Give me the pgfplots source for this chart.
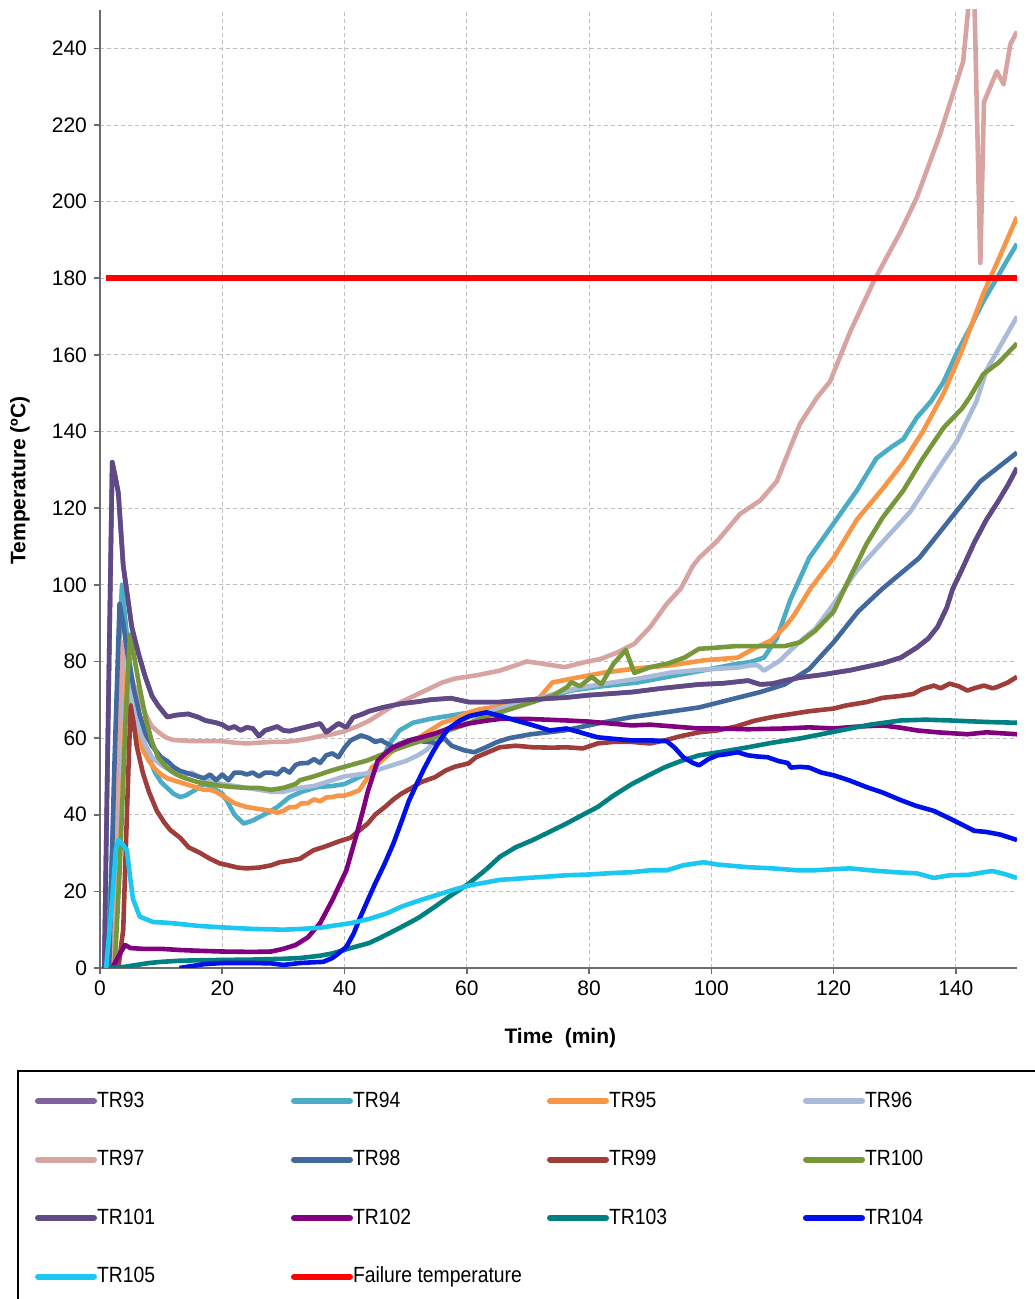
\documentclass[border=0pt]{standalone}
\usepackage{fontspec}
\setmainfont{Liberation Sans}
\newfontfamily\legfont[FakeStretch=0.88]{Liberation Sans}
\usepackage{pgfplots}
\pgfplotsset{compat=1.18}
\definecolor{cA}{HTML}{7F62A0}
\definecolor{cB}{HTML}{4BACC6}
\definecolor{cC}{HTML}{F79646}
\definecolor{cD}{HTML}{A9BBD8}
\definecolor{cE}{HTML}{D8A4A2}
\definecolor{cF}{HTML}{41699E}
\definecolor{cG}{HTML}{9F3D3A}
\definecolor{cH}{HTML}{77983A}
\definecolor{cI}{HTML}{5F4A85}
\definecolor{cJ}{HTML}{800080}
\definecolor{cK}{HTML}{008080}
\definecolor{cL}{HTML}{0010E8}
\definecolor{cM}{HTML}{1CC8F2}
\definecolor{cN}{HTML}{FF0000}
\newcommand{\legtxt}[1]{\makebox[97pt][l]{#1}}
\begin{document}
\begin{tikzpicture}
\begin{axis}[
  at={(50pt,165.5pt)}, anchor=south west,
  scale only axis, width=458.5pt, height=479pt,
  xmin=0, xmax=150, ymin=0, ymax=250,
  xtick={0,20,...,140}, ytick={0,20,...,240},
  axis lines=left,
  axis line style={-, draw=gray!85!black, line width=1pt},
  tick align=outside, major tick length=3pt,
  tick style={draw=gray!85!black, line width=0.8pt},
  xmajorgrids, ymajorgrids,
  grid style={dash pattern=on 2pt off 1.5pt, draw=gray!50, line width=0.4pt},
  /pgf/number format/assume math mode=true,
  tick label style={font=\fontsize{10.5}{12}\selectfont},
  every axis x label/.style={at={(axis description cs:0.502,-0.073)}, anchor=center},
  every axis y label/.style={at={(axis description cs:-0.0872,0.509)}, rotate=90, anchor=center},
  xlabel={\bfseries\fontsize{10.5}{12}\selectfont Time\ \ (min)},
  ylabel={\bfseries\fontsize{10.5}{12}\selectfont Temperature (ºC)},
  no markers,
  every axis plot/.append style={line width=2.3pt, line join=round},
  legend columns=4,
  legend cell align=left,
  legend image code/.code={\draw[#1, line width=3pt, line cap=round] (0pt,0pt) -- (28pt,0pt);},
  legend style={
    at={(-0.0905,-0.1065)}, anchor=north west,
    draw=black, line width=1pt,
    inner xsep=8.5pt, inner ysep=10pt,
    font=\legfont\fontsize{11}{13}\selectfont,
    nodes={inner xsep=0pt, inner ysep=0pt, text height=8pt, text depth=2pt},
    row sep=19.25pt,
    /tikz/every even column/.append style={column sep=0pt},
  },
]
% TR93
\addplot[cA] coordinates {(0.7,0) (2.0,132) (2.4,129) (3,124) (3.8,105) (5.2,89) (6.3,82) (7.4,76) (8.5,71) (9.5,68.5) (11,65.5) (12.5,66) (14.4,66.3) (16,65.5) (17.2,64.6) (19,64) (20,63.5) (21,62.5) (22,63) (23,62) (24,62.8) (25,62.5) (26,60.5) (27,62) (28,62.5) (29,63) (30,62) (31,61.8) (32.7,62.5) (34,63) (36,63.8) (37,61.5) (39,63.8) (40.3,62.8) (41.4,65.4) (43,66.3) (44,67) (46.3,68) (49.3,69) (52,69.5) (54,70) (57.4,70.4) (60.3,69.4) (65.4,69.4) (70,70) (76.3,70.6) (80,71.2) (87,72) (92,73) (98,74) (102,74.3) (106,75) (108,74) (110,74.2) (112,75) (114.5,75.8) (118,76.5) (122.7,77.7) (128,79.5) (131,81) (133.6,83.6) (135.5,86) (137,89) (138.5,94) (139.5,99) (141,104) (143,111) (145,117) (147,122) (148.5,126) (150,130.5)};
\addlegendentry{\legtxt{TR93}}
% TR94
\addplot[cB] coordinates {(1.2,0) (2.2,40) (3.0,80) (3.6,100) (4.2,90) (5,78) (6,68) (7,60) (8,55) (9,51) (10,48.5) (11,47) (12,45.5) (13.1,44.6) (14,45) (15.5,46.4) (16.9,48) (18,47.5) (19,46.5) (20,45.5) (20.7,43.8) (22,40) (23.5,37.7) (25,38.5) (27.3,40.4) (29,42) (31,44.6) (33,46) (35.5,47.2) (38,47.5) (40,48) (42,49.5) (44,51) (46,54) (47.4,58.6) (49,62) (51.2,64) (54,65) (59.4,66.4) (63,67) (66,68) (70,69.5) (74,71) (77.1,72.4) (82,73.5) (87.9,74.5) (93,76) (98.8,77.7) (104.3,79.4) (106.3,79.8) (108.6,81) (110.7,86) (112.9,96) (116,107) (120,116) (123.8,124.6) (127,133) (129.5,136) (131.4,138) (133.6,143.6) (136,148) (138,153) (140,160) (142.3,167) (144.5,174) (146.7,180) (148.5,185) (150,189)};
\addlegendentry{\legtxt{TR94}}
% TR95
\addplot[cC] coordinates {(2.2,0) (3.2,45) (4.3,78) (5,70) (6,62) (7,57) (8,54) (9,52) (10,50.5) (11,49.5) (12,49) (13,48.5) (14,48) (15,47.5) (16,47) (17,46.5) (18,46.5) (19,46) (20,45) (21,44) (22,43) (23,42.5) (24,42) (26,41.5) (28,41) (29,40.5) (30,41) (31,42) (32,42) (33,43) (34,43) (35,44) (36,43.5) (37,44.5) (38,44.6) (39,45) (40,45) (41,45.5) (42.4,46.4) (43.5,49) (44.5,52.4) (46,54) (48,56.8) (50,58) (52,60) (54,62) (56,64) (58,65) (60,66.5) (62,67.5) (64,68) (66,68.5) (68,69) (70,69.5) (71.9,70.6) (74,74.5) (77.1,75.5) (82.5,77.1) (87.9,78.2) (93.4,79) (98.8,80.3) (104.3,81) (107,83.4) (109.8,85.5) (112,89) (113.5,92) (116.2,99) (120,107) (123.8,117) (128.2,125.4) (131.4,132) (134.6,140) (138,150) (140.7,160) (144.5,176) (147,185) (150,196)};
\addlegendentry{\legtxt{TR95}}
% TR96
\addplot[cD] coordinates {(1.8,0) (3.0,50) (3.8,85) (4.5,78) (5.5,68) (6.5,62) (7.5,58) (8.5,55) (10,53) (11,52) (12,51.5) (13,51) (14,50.5) (15,51) (16,50) (17,49.5) (18,49) (19,48.5) (20,48) (22,47.5) (24,47) (26,46.5) (28,46) (30,46) (32.7,47) (35,47.5) (38,49) (40,50) (43.8,50.8) (46,52) (48,53) (50,54) (52,55.5) (53.5,57) (54.8,59.4) (56,61) (58,63.5) (60.3,65.4) (62,66) (64,67) (66,68) (70,69.5) (74.4,71.6) (78,73) (82.5,74.2) (88,75.5) (93.4,77.1) (98,77.8) (104.3,78.4) (106.5,79) (107.6,79) (108.6,77.6) (110,79) (111.3,80.3) (113,83) (115.3,86.3) (117,88.5) (120,95) (123.8,103.7) (128.2,111.5) (132.5,119) (137,130) (140.2,137.6) (143.4,148) (145,156) (147.5,163) (150,170)};
\addlegendentry{\legtxt{TR96}}
% TR97
\addplot[cE] coordinates {(2.0,0) (2.8,50) (3.7,85) (4.5,80) (5.5,74) (6.5,70) (7.5,66) (8.5,63) (10,61) (11,60) (12,59.5) (13.1,59.4) (15,59.2) (18,59.2) (20,59.2) (22,58.8) (24,58.6) (26,58.8) (28,59) (30,59) (32,59.3) (34,59.8) (36,60.5) (38,61) (40,61.8) (42,63) (44,64.5) (46,66.5) (48,68.5) (50,70) (52,71.5) (54,73) (56,74.5) (58,75.5) (60,76) (62,76.5) (65.4,77.6) (68,79) (69.8,80) (72,79.5) (74,79) (76,78.5) (79.3,79.8) (82,80.7) (84.7,82.4) (87.4,84.6) (90,89) (92.7,95) (95,99) (97,105) (98,107) (101,111.5) (104.7,118.5) (108,122) (110.7,127) (112.9,135.8) (114.5,142) (117.3,148.9) (119.4,153) (122.7,166) (126.5,179) (129.2,187) (130.9,192) (133.6,201) (137.4,217.5) (141.2,236.6) (142,250) (142.3,262) (142.9,262) (144,184) (144.6,226) (146.7,234) (147.8,230.6) (148.9,241) (150,244.4)};
\addlegendentry{\legtxt{TR97}}
% TR98
\addplot[cF] coordinates {(1.5,0) (2.3,50) (3.2,95) (3.8,90) (4.5,82) (5.5,73) (6.5,66) (7.5,61) (8.5,58) (10,55) (11,54) (12,52.5) (13,51.5) (14,51) (15,50.5) (16,50) (17,49.5) (18,50.5) (19,49) (20,50.5) (21,49) (22,51) (23,51) (24,50.5) (25,51) (26,50) (27,51) (28,51) (29,50.5) (30,52) (31,51) (32,53) (32.7,53.4) (34,53.5) (35,54.5) (36,53.5) (37,55.5) (38,56) (39,55) (40,57.5) (41,59.4) (42.7,60.7) (44,60) (45,59) (46,59.4) (47,58.5) (48,57.6) (49,58.5) (50.4,59.4) (52,60) (53,59) (54.2,59) (55,58.5) (56.3,60) (57.5,58) (59.6,56.8) (61.2,56.3) (63,57.5) (65,59) (67,60) (70.5,61) (76,62) (81.4,63.8) (87,65.5) (92.4,66.7) (98,68) (104,70.4) (108,72) (112,74) (116,78) (120,85) (124,93) (128,99) (134,107) (139,117) (144,127) (150,134.5)};
\addlegendentry{\legtxt{TR98}}
% TR99
\addplot[cG] coordinates {(3,0) (3.8,10) (4.4,40) (5.0,68.5) (5.5,64) (6,58) (7,51) (8,46) (9.3,41) (10.5,38) (11.5,36) (13.1,34) (14.5,31.5) (16.4,30) (18,28.5) (19.6,27.3) (21,26.8) (22.5,26.2) (24,26) (26,26.2) (28,26.8) (29.4,27.6) (31,28) (32.7,28.5) (34.9,30.7) (37,31.8) (39,33) (41,34) (42.5,36) (43.8,37.7) (45,40) (46.6,42) (48,44) (49.3,45.5) (51,47) (52.5,48.5) (54.8,49.8) (56.5,51.5) (58,52.5) (60.3,53.4) (61.5,55) (63,56) (65.4,57.6) (68,58) (70.8,57.6) (74,57.5) (76.3,57.6) (79,57.3) (81.4,58.6) (84,59) (87,59) (90,58.6) (92.4,59.4) (95,60.5) (98,61.5) (101,62) (104,63) (107,64.5) (110,65.5) (112,66) (116,67) (120,67.7) (122,68.5) (125.4,69.4) (128,70.5) (131,71) (133,71.5) (134.5,72.8) (136.4,73.7) (137.5,73) (139,74.2) (140.5,73.5) (141.9,72.4) (143,73) (144.6,73.7) (146,73) (146.7,73.3) (148.5,74.5) (150,76)};
\addlegendentry{\legtxt{TR99}}
% TR100
\addplot[cH] coordinates {(2.4,0) (3.2,25) (4.2,65) (4.9,87) (5.5,82) (6.5,73) (7.5,65) (8.5,59) (9.5,55) (10.5,53) (11.5,51.5) (12.5,50.5) (14,49.5) (16,48.5) (18,48) (20,47.5) (22,47.2) (24,47) (26,47) (28,46.5) (30,47) (32,48) (32.7,49) (35,50) (38,51.6) (40,52.5) (43.8,54.2) (45.8,55.5) (49.3,57.6) (52,59) (54.8,60.2) (57,62) (60.3,63.8) (62,65) (64,66) (66,67) (68,68) (70,69) (72,70) (74,71) (76.4,73.3) (77.1,74.6) (78.5,73.5) (80.4,76) (82,74) (84,79.4) (86,83) (87.4,77) (90,78.5) (93,79.5) (95.6,81) (98,83.3) (100,83.5) (104,84) (106.3,84) (109.5,84) (112,84) (114.5,85) (117,88) (120,93) (122.7,102) (125.4,110.7) (128,117.5) (131.4,124.6) (134.6,133) (138,141) (141,146) (142.3,149) (144.5,155) (147,158) (150,163)};
\addlegendentry{\legtxt{TR100}}
% TR101
\addplot[cI] coordinates {(0.7,0) (2.0,132) (2.4,129) (3,124) (3.8,105) (5.2,89) (6.3,82) (7.4,76) (8.5,71) (9.5,68.5) (11,65.5) (12.5,66) (14.4,66.3) (16,65.5) (17.2,64.6) (19,64) (20,63.5) (21,62.5) (22,63) (23,62) (24,62.8) (25,62.5) (26,60.5) (27,62) (28,62.5) (29,63) (30,62) (31,61.8) (32.7,62.5) (34,63) (36,63.8) (37,61.5) (39,63.8) (40.3,62.8) (41.4,65.4) (43,66.3) (44,67) (46.3,68) (49.3,69) (52,69.5) (54,70) (57.4,70.4) (60.3,69.4) (65.4,69.4) (70,70) (76.3,70.6) (80,71.2) (87,72) (92,73) (98,74) (102,74.3) (106,75) (108,74) (110,74.2) (112,75) (114.5,75.8) (118,76.5) (122.7,77.7) (128,79.5) (131,81) (133.6,83.6) (135.5,86) (137,89) (138.5,94) (139.5,99) (141,104) (143,111) (145,117) (147,122) (148.5,126) (150,130.5)};
\addlegendentry{\legtxt{TR101}}
% TR102
\addplot[cJ] coordinates {(2.0,0) (3.0,3) (4.1,6) (5,5.2) (7,5) (10,5) (13,4.7) (16,4.5) (20,4.3) (25,4.2) (28,4.3) (30,5) (32,6) (34,8) (36,11.7) (38,17.7) (40.3,25.5) (42,35) (43,41) (43.8,46) (45.4,54) (47,56.5) (48,57.6) (50.8,59.4) (54.8,61.2) (57,62.5) (60.3,63.8) (63,64.5) (65.4,65) (70,65) (76.3,64.6) (80,64.3) (87,63.3) (90,63.5) (94,63) (98,62.5) (101,62.5) (106,62.3) (112,62.5) (116,62.8) (120,62.5) (124,63) (128,63.3) (131,62.7) (133.6,62) (137,61.5) (140,61.2) (141.9,61) (145,61.5) (148,61.2) (150,61)};
\addlegendentry{\legtxt{TR102}}
% TR103
\addplot[cK] coordinates {(1.5,0) (4,0.3) (6,0.8) (8,1.3) (10,1.6) (13,1.9) (16,2) (20,2.1) (25,2.2) (30,2.4) (32.7,2.6) (36,3.2) (38,3.8) (41,5.2) (44,6.5) (46,8) (49.3,10.7) (52,13) (54.8,16) (57,18.5) (60.3,22) (63,25.5) (65.4,29) (68,31.5) (70.8,33.4) (73.5,35.5) (76.3,37.7) (79,40) (81.4,42) (84,45) (87,48) (90,50.5) (92.4,52.4) (95,54) (98,55.5) (102,56.5) (106,57.6) (110,58.8) (114.5,59.9) (118,61) (122.7,62.5) (126,63.5) (131,64.6) (135,64.8) (139,64.6) (145,64.2) (150,64)};
\addlegendentry{\legtxt{TR103}}
% TR104
\addplot[cL] coordinates {(13,0) (15,0.5) (17,1) (20,1.3) (25,1.3) (28,1.2) (30,0.8) (32.7,1.3) (35,1.5) (36.5,1.6) (38,2.6) (39,3.8) (40.3,5.5) (41.5,9) (42.5,13) (43.8,17.7) (45,22) (46.5,27) (48,32.5) (49.5,39) (50.5,43.5) (51.8,48) (53,52) (54.5,56.5) (55.6,59.4) (57,62.5) (58.9,64.6) (60.5,65.8) (63.2,66.7) (65.5,65.8) (68,64.6) (70.5,63.5) (73.6,62) (76.3,62.5) (78.5,61.5) (81.4,60.2) (84,59.8) (87,59.4) (90,59.4) (92.7,59.2) (94,57.5) (95.4,55) (97,53.5) (98,52.9) (99.5,54.5) (101,55.5) (102.5,55.8) (104.3,56.3) (106,55.5) (107.5,55.2) (109.2,55) (111,54) (112.5,53.5) (113,52.3) (114.5,52.5) (116,52.3) (118,51) (120,50.3) (122.5,49) (125.4,47.2) (128,45.8) (131,43.8) (133.5,42.3) (136.4,41) (139,39) (141.9,36.7) (143,35.8) (145,35.5) (147.3,34.8) (150,33.4)};
\addlegendentry{\legtxt{TR104}}
% TR105
\addplot[cM] coordinates {(1.0,0) (2.0,18) (2.6,31) (3.0,33.4) (3.6,32.5) (4.4,30.7) (4.9,24) (5.4,18) (6.5,13.4) (8.7,12) (11,11.8) (13,11.5) (16,11) (20,10.6) (25,10.2) (30,10) (33,10.2) (36,10.5) (38,11) (41,11.7) (44,12.8) (47,14.3) (49.3,16) (52,17.5) (55,19) (58,20.5) (60.3,21.5) (63,22.3) (65.4,23) (70,23.5) (76.3,24.2) (80,24.4) (84,24.8) (87,25) (90,25.5) (92.7,25.5) (95.4,26.8) (98.7,27.6) (101,27) (106,26.3) (110,26) (114,25.5) (117,25.5) (120,25.8) (122.7,26) (126,25.5) (130,25) (133.6,24.7) (136.4,23.5) (139,24.2) (142,24.3) (144.6,25) (146,25.3) (148,24.5) (150,23.5)};
\addlegendentry{\legtxt{TR105}}
% Failure temperature
\addplot[cN, line width=3pt] coordinates {(1,180) (150,180)};
\addlegendentry{\legtxt{Failure temperature}}
\end{axis}
\pgfresetboundingbox
\path[use as bounding box] (0pt,0pt) rectangle (517pt,649.5pt);
\end{tikzpicture}
\end{document}
